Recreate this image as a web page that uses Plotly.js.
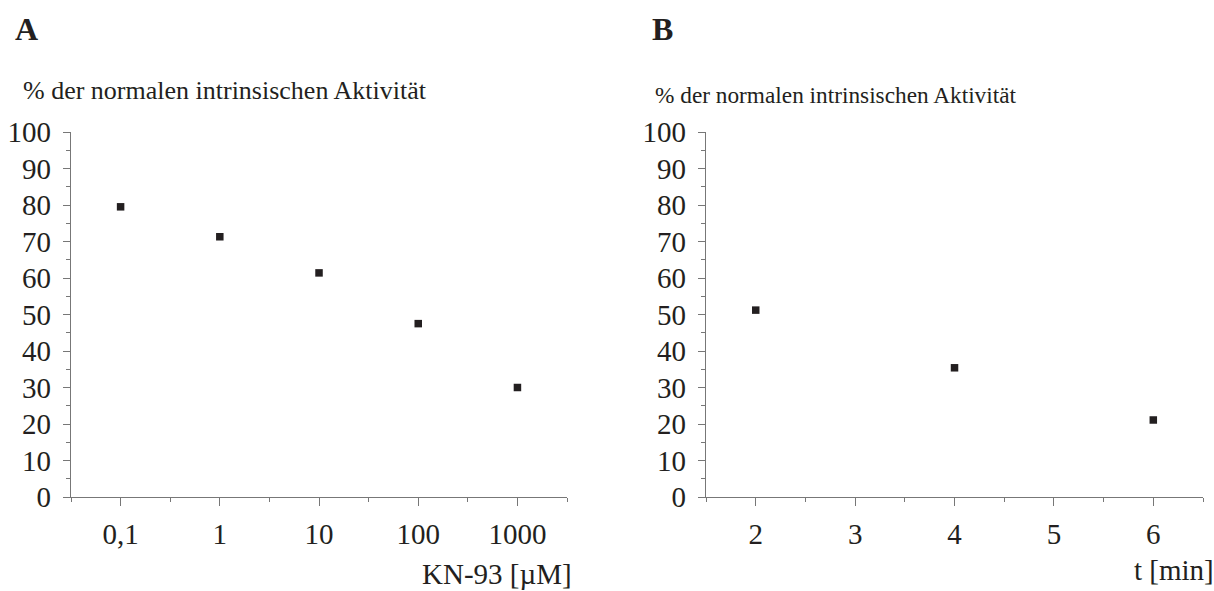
<!DOCTYPE html>
<html>
<head>
<meta charset="utf-8">
<script src="https://cdn.plot.ly/plotly-3.0.1.min.js"></script>
<style>html,body{margin:0;padding:0;background:#fff;}#chart{width:1214px;height:591px;}</style>
</head>
<body>
<div id="chart"></div>
<script>
// Panel A: KN-93 concentration (µM) vs % activity
const concA = [0.1, 1, 10, 100, 1000];
const concLabelsA = ["0,1", "1", "10", "100", "1000"];
const activityA = [79.5, 71.3, 61.4, 47.5, 30.0];
// Panel B: time (min) vs % activity
const timeB = [2, 4, 6];
const activityB = [51.2, 35.4, 21.1];
const yTicks = [0, 10, 20, 30, 40, 50, 60, 70, 80, 90, 100];

const FONT = "'Liberation Serif', 'Times New Roman', serif";
const TXT = "#231f20";
const AX = "#777777";

const traceA = {
  x: concA, y: activityA, type: "scatter", mode: "markers",
  marker: {symbol: "square", size: 7.5, color: "#231f20"},
  xaxis: "x", yaxis: "y", showlegend: false
};
const traceB = {
  x: timeB, y: activityB, type: "scatter", mode: "markers",
  marker: {symbol: "square", size: 7.5, color: "#231f20"},
  xaxis: "x2", yaxis: "y2", showlegend: false
};

const halfDecades = [-1.5, -0.5, 0.5, 1.5, 2.5, 3.5].map(e => Math.pow(10, e));

function yAxis(anchor) {
  return {
    anchor: anchor, range: [0, 100], tickvals: yTicks, tickmode: "array",
    ticks: "outside", ticklen: 7, tickcolor: AX, tickwidth: 1,
    minor: {dtick: 5, tick0: 0, ticks: "outside", ticklen: 4, tickcolor: AX},
    showline: true, linecolor: AX, linewidth: 1.3, showgrid: false, zeroline: false,
    tickfont: {family: FONT, size: 29, color: TXT}, ticklabelstandoff: 6, fixedrange: true
  };
}

const layout = {
  width: 1214, height: 591,
  margin: {l: 71, r: 11, t: 132, b: 94},
  paper_bgcolor: "#fff", plot_bgcolor: "#fff",
  font: {family: FONT, color: TXT},
  xaxis: {
    domain: [0, 0.4382], anchor: "y", type: "log", range: [-1.5, 3.5],
    tickmode: "array", tickvals: concA, ticktext: concLabelsA,
    ticks: "outside", ticklen: 8, tickcolor: AX,
    minor: {tickmode: "array", tickvals: halfDecades, ticks: "outside", ticklen: 4, tickcolor: AX},
    showline: true, linecolor: AX, linewidth: 1.3, showgrid: false, zeroline: false,
    tickfont: {family: FONT, size: 29, color: TXT}, ticklabelstandoff: 3
  },
  yaxis: yAxis("x"),
  xaxis2: {
    domain: [0.561, 1], anchor: "y2", range: [1.5, 6.5],
    tickmode: "array", tickvals: [2, 3, 4, 5, 6],
    ticks: "outside", ticklen: 8, tickcolor: AX,
    minor: {dtick: 0.5, tick0: 1.5, ticks: "outside", ticklen: 4, tickcolor: AX},
    showline: true, linecolor: AX, linewidth: 1.3, showgrid: false, zeroline: false,
    tickfont: {family: FONT, size: 29, color: TXT}, ticklabelstandoff: 3
  },
  yaxis2: yAxis("x2"),
  annotations: [
    {text: "<b>A</b>", xref: "paper", yref: "paper", x: -0.0515, y: 1.281, xanchor: "left", yanchor: "middle", showarrow: false, font: {family: FONT, size: 32, color: TXT}},
    {text: "% der normalen intrinsischen Aktivität", xref: "paper", yref: "paper", x: -0.0445, y: 1.114, xanchor: "left", yanchor: "middle", showarrow: false, font: {family: FONT, size: 26, color: TXT}},
    {text: "<b>B</b>", xref: "paper", yref: "paper", x: 0.5113, y: 1.281, xanchor: "left", yanchor: "middle", showarrow: false, font: {family: FONT, size: 32, color: TXT}},
    {text: "% der normalen intrinsischen Aktivität", xref: "paper", yref: "paper", x: 0.5142, y: 1.1, xanchor: "left", yanchor: "middle", showarrow: false, font: {family: FONT, size: 23.3, color: TXT}},
    {text: "KN-93 [µM]", xref: "paper", yref: "paper", x: 0.4445, y: -0.212, xanchor: "right", yanchor: "middle", showarrow: false, font: {family: FONT, size: 29, color: TXT}},
    {text: "t [min]", xref: "paper", yref: "paper", x: 1.0115, y: -0.2, xanchor: "right", yanchor: "middle", showarrow: false, font: {family: FONT, size: 29, color: TXT}}
  ]
};

Plotly.newPlot("chart", [traceA, traceB], layout, {displayModeBar: false, staticPlot: true});
</script>
</body>
</html>
